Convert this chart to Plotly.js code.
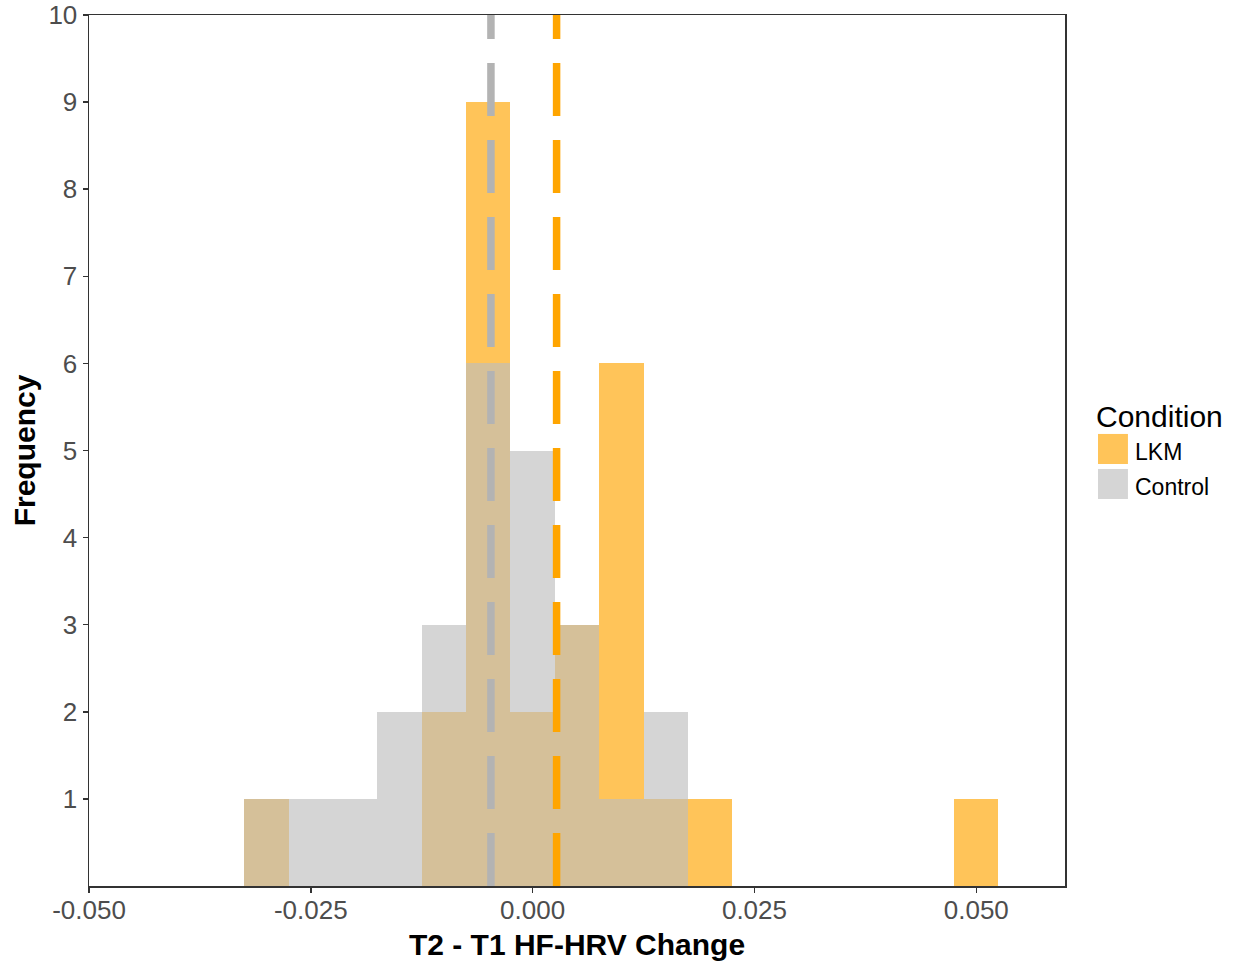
<!DOCTYPE html>
<html>
<head>
<meta charset="utf-8">
<script src="https://cdn.plot.ly/plotly-3.0.1.min.js"></script>
<style>html,body{margin:0;padding:0;background:#fff;}#chart{width:1244px;height:966px;}</style>
</head>
<body>
<div id="chart"></div>
<script>
// Histogram bins (centers, bin width 0.005)
const binCenters = [-0.030, -0.025, -0.020, -0.015, -0.010, -0.005, 0.000, 0.005, 0.010, 0.015, 0.020, 0.025, 0.030, 0.035, 0.040, 0.045, 0.050];
const lkmCounts     = [1, 0, 0, 0, 2, 9, 2, 3, 6, 1, 1, 0, 0, 0, 0, 0, 1];
const controlCounts = [1, 1, 1, 2, 3, 6, 5, 3, 1, 2, 0, 0, 0, 0, 0, 0, 0];
const binWidth = 0.005;
// Group means (dashed lines)
const lkmMean = 0.0027;
const controlMean = -0.0047;
// Labels
const groupNames = ["LKM", "Control"];
const legendTitle = "Condition";
const xTitle = "T2 - T1 HF-HRV Change";
const yTitle = "Frequency";
const xTickVals = [-0.05, -0.025, 0, 0.025, 0.05];
const xTickText = ["-0.050", "-0.025", "0.000", "0.025", "0.050"];
const yTickVals = [1, 2, 3, 4, 5, 6, 7, 8, 9, 10];

const FONT = "Liberation Sans, Arial, sans-serif";
const fillLKM = "rgba(255,165,0,0.65)";
const fillCtrl = "rgba(190,190,190,0.64)";

const traces = [
  {type: "bar", name: groupNames[0], x: binCenters, y: lkmCounts, width: binWidth,
   marker: {color: fillLKM, line: {width: 0}}, showlegend: false, hoverinfo: "x+y"},
  {type: "bar", name: groupNames[1], x: binCenters, y: controlCounts, width: binWidth,
   marker: {color: fillCtrl, line: {width: 0}}, showlegend: false, hoverinfo: "x+y"}
];

// custom legend geometry (paper coords)
const lgX0 = 1.0338, lgX1 = 1.0645;
const shapes = [
  {type: "line", xref: "x", yref: "paper", x0: controlMean, x1: controlMean, y0: 0, y1: 1,
   line: {color: "#B3B3B3", width: 7.5, dash: "53px,24px"}},
  {type: "line", xref: "x", yref: "paper", x0: lkmMean, x1: lkmMean, y0: 0, y1: 1,
   line: {color: "#FFA500", width: 7.5, dash: "53px,24px"}},
  {type: "rect", xref: "paper", yref: "paper", x0: lgX0, x1: lgX1, y0: 0.4845, y1: 0.519,
   fillcolor: fillLKM, line: {width: 0}},
  {type: "rect", xref: "paper", yref: "paper", x0: lgX0, x1: lgX1, y0: 0.4443, y1: 0.4788,
   fillcolor: fillCtrl, line: {width: 0}}
];

const annotations = [
  {xref: "paper", yref: "paper", x: 1.0297, y: 0.5385, xanchor: "left", yanchor: "middle",
   text: legendTitle, showarrow: false, font: {family: FONT, size: 30, color: "#000"}},
  {xref: "paper", yref: "paper", x: 1.0697, y: 0.4983, xanchor: "left", yanchor: "middle",
   text: groupNames[0], showarrow: false, font: {family: FONT, size: 23, color: "#000"}},
  {xref: "paper", yref: "paper", x: 1.0697, y: 0.4581, xanchor: "left", yanchor: "middle",
   text: groupNames[1], showarrow: false, font: {family: FONT, size: 23, color: "#000"}}
];

const layout = {
  width: 1244, height: 966,
  margin: {l: 89, r: 179, t: 15, b: 80, pad: 0},
  paper_bgcolor: "#fff", plot_bgcolor: "#fff",
  barmode: "overlay", bargap: 0,
  showlegend: false,
  font: {family: FONT},
  xaxis: {
    range: [-0.05, 0.06], tickvals: xTickVals, ticktext: xTickText,
    showgrid: false, zeroline: false, showline: true, mirror: true,
    linecolor: "#333", linewidth: 1.5, ticks: "outside", ticklen: 5, tickcolor: "#333", tickwidth: 1.5,
    tickfont: {family: FONT, size: 26, color: "#4D4D4D"}, ticklabelstandoff: -5,
    title: {text: xTitle, standoff: 10, font: {family: FONT, size: 30, color: "#000", weight: "bold"}}
  },
  yaxis: {
    range: [0, 10], tickvals: yTickVals,
    showgrid: false, zeroline: false, showline: true, mirror: true,
    linecolor: "#333", linewidth: 1.5, ticks: "outside", ticklen: 5, tickcolor: "#333", tickwidth: 1.5,
    tickfont: {family: FONT, size: 26, color: "#4D4D4D"},
    title: {text: yTitle, standoff: 4, font: {family: FONT, size: 30, color: "#000", weight: "bold"}}
  },
  shapes: shapes,
  annotations: annotations
};

Plotly.newPlot("chart", traces, layout, {displayModeBar: false, staticPlot: true});
</script>
</body>
</html>
